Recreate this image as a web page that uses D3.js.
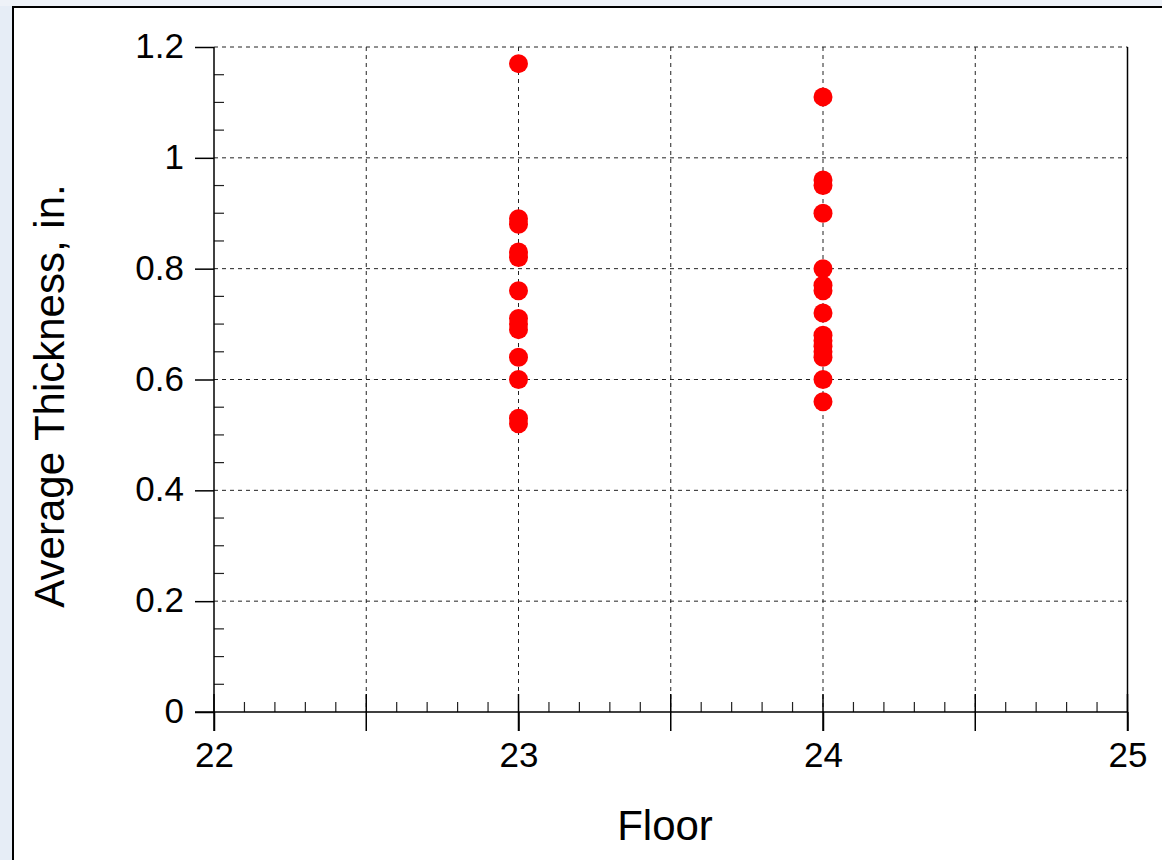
<!DOCTYPE html>
<html>
<head>
<meta charset="utf-8">
<script src="https://cdn.jsdelivr.net/npm/d3@7"></script>
<style>
  html, body { margin: 0; padding: 0; background: #e6edf6; }
  svg { display: block; }
  text { font-family: "Liberation Sans", Arial, sans-serif; fill: #000; }
</style>
</head>
<body>
<svg id="chart" width="1162" height="860"></svg>
<script>
const floors = [23, 24];
const floor23 = [1.17, 0.89, 0.88, 0.83, 0.82, 0.76, 0.71, 0.70, 0.69, 0.64, 0.60, 0.53, 0.52];
const floor24 = [1.11, 0.96, 0.95, 0.90, 0.80, 0.77, 0.76, 0.72, 0.68, 0.67, 0.66, 0.65, 0.64, 0.60, 0.56];
const xTicks = [22, 23, 24, 25];
const yTicks = [0, 0.2, 0.4, 0.6, 0.8, 1, 1.2];
const xTitle = "Floor";
const yTitle = "Average Thickness, in.";

const svg = d3.select("#chart");
// panel
svg.append("rect").attr("x", 0).attr("y", 0).attr("width", 1162).attr("height", 6).attr("fill", "#eef2f8");
svg.append("rect").attr("x", 13).attr("y", 7).attr("width", 1160).attr("height", 860)
  .attr("fill", "#fff").attr("stroke", "#000").attr("stroke-width", 2);

const x = d3.scaleLinear().domain([22, 25]).range([214, 1127.5]);
const y = d3.scaleLinear().domain([0, 1.2]).range([712, 47]);

const g = svg.append("g");

// grid lines
const gx = d3.range(22.5, 25, 0.5);
g.selectAll(".gridx").data(gx).join("line")
  .attr("x1", d => x(d)).attr("x2", d => x(d))
  .attr("y1", y(1.2)).attr("y2", y(0))
  .attr("stroke", "#222").attr("stroke-width", 1).attr("stroke-dasharray", "4,4");
g.selectAll(".gridy").data(yTicks.filter(d => d > 0)).join("line")
  .attr("x1", x(22)).attr("x2", x(25))
  .attr("y1", d => y(d)).attr("y2", d => y(d))
  .attr("stroke", "#222").attr("stroke-width", 1).attr("stroke-dasharray", "4,4");

// right border
g.append("line").attr("x1", x(25)).attr("x2", x(25)).attr("y1", y(1.2)).attr("y2", y(0))
  .attr("stroke", "#000").attr("stroke-width", 1.5);

// x axis
const xAxis = d3.axisBottom(x).tickValues(xTicks).tickFormat(d3.format("d")).tickSize(19).tickPadding(11);
const xg = g.append("g").attr("transform", `translate(0,${y(0)})`).call(xAxis);
xg.select(".domain").remove();
xg.selectAll(".tick line").attr("stroke", "#000").attr("stroke-width", 1.5);
xg.selectAll(".tick text").style("font-size", "35px").style("font-family", "Liberation Sans, Arial, sans-serif").attr("fill", "#000");
// major ticks at every 0.5 crossing the axis
g.selectAll(".xmaj").data(d3.range(22, 25.01, 0.5)).join("line")
  .attr("x1", d => x(d)).attr("x2", d => x(d))
  .attr("y1", y(0) - 18).attr("y2", y(0) + 19)
  .attr("stroke", "#000").attr("stroke-width", 1.5);
// minor x ticks every 0.1
const xMinor = d3.range(0, 31).map(i => 22 + i * 0.1).filter(v => Math.abs(v * 2 - Math.round(v * 2)) > 1e-6);
g.selectAll(".xmin").data(xMinor).join("line")
  .attr("x1", d => x(d)).attr("x2", d => x(d))
  .attr("y1", y(0) - 10).attr("y2", y(0))
  .attr("stroke", "#222").attr("stroke-width", 1.2);
// x axis line
g.append("line").attr("x1", 195).attr("x2", x(25)).attr("y1", y(0)).attr("y2", y(0))
  .attr("stroke", "#000").attr("stroke-width", 1.5);

// y axis
const yAxis = d3.axisLeft(y).tickValues(yTicks).tickFormat(d => d === 0 ? "0" : (d === 1 ? "1" : d3.format(".1f")(d))).tickSize(19).tickPadding(11);
const yg = g.append("g").attr("transform", `translate(${x(22)},0)`).call(yAxis);
yg.select(".domain").remove();
yg.selectAll(".tick line").attr("stroke", "#000").attr("stroke-width", 1.5);
yg.selectAll(".tick text").style("font-size", "35px").style("font-family", "Liberation Sans, Arial, sans-serif").attr("fill", "#000").attr("dy", "0.3em");
const yMinor = d3.range(0, 25).map(i => i * 0.05).filter(v => Math.abs(v * 5 - Math.round(v * 5)) > 1e-6);
g.selectAll(".ymin").data(yMinor).join("line")
  .attr("x1", x(22)).attr("x2", x(22) + 10)
  .attr("y1", d => y(d)).attr("y2", d => y(d))
  .attr("stroke", "#222").attr("stroke-width", 1.2);
g.append("line").attr("x1", x(22)).attr("x2", x(22)).attr("y1", y(1.2)).attr("y2", y(0))
  .attr("stroke", "#000").attr("stroke-width", 1.5);

// points
const pts = [];
floor23.forEach(v => pts.push({ f: floors[0], v }));
floor24.forEach(v => pts.push({ f: floors[1], v }));
g.selectAll(".pt").data(pts).join("circle")
  .attr("cx", d => x(d.f)).attr("cy", d => y(d.v)).attr("r", 9.5)
  .attr("fill", "#ff0000");

// titles
svg.append("text").attr("x", 665).attr("y", 840).attr("text-anchor", "middle")
  .style("font-size", "42px").text(xTitle);
svg.append("text").attr("transform", "translate(64,396) rotate(-90)").attr("text-anchor", "middle")
  .style("font-size", "42px").text(yTitle);
</script>
</body>
</html>
